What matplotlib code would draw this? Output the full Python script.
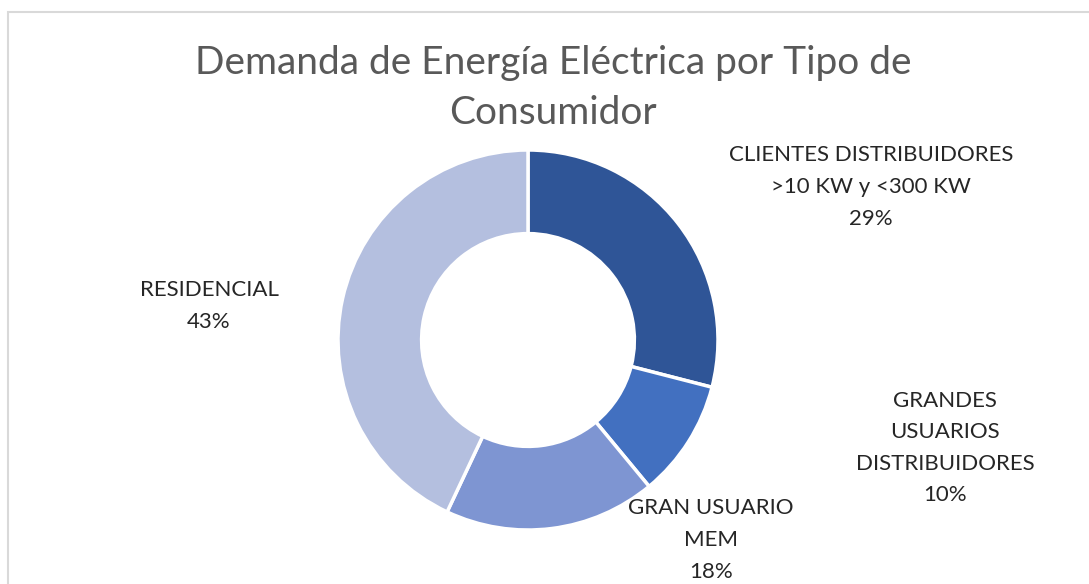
import matplotlib
matplotlib.use("Agg")
import matplotlib.pyplot as plt
from matplotlib.patches import Rectangle

categories = ["CLIENTES DISTRIBUIDORES\n>10 KW y <300 KW", "GRANDES\nUSUARIOS\nDISTRIBUIDORES",
              "GRAN USUARIO\nMEM", "RESIDENCIAL"]
values = [29, 10, 18, 43]
colors = ["#2F5597", "#4270C0", "#7E95D2", "#B4BFDF"]
title = "Demanda de Energía Eléctrica por Tipo de\nConsumidor"

W, H = 1089, 584
fig = plt.figure(figsize=(W / 100, H / 100), dpi=100)
plt.rcParams['font.family'] = ['Lato', 'DejaVu Sans']

# border
fig.patches.append(Rectangle((8 / W, -0.1), 1.2, (H - 12) / H + 0.1, transform=fig.transFigure,
                             fill=False, edgecolor="#D9D9D9", lw=1.5))

cx, cy, R = 528, 340, 190
ax = fig.add_axes([(cx - R) / W, (H - cy - R) / H, 2 * R / W, 2 * R / H])
ax.pie(values, colors=colors, startangle=90, counterclock=False, radius=1,
       wedgeprops=dict(width=0.44, edgecolor="white", linewidth=2.5))
ax.set_xlim(-1, 1)
ax.set_ylim(-1, 1)
ax.set_aspect("equal")
ax.axis("off")

fig.text(553 / W, 1 - 88 / H, title, ha="center", va="center", fontsize=28,
         color="#595959", linespacing=1.48)

label_pos = [(871, 187), (945, 448), (711, 540), (209, 306)]
for cat, v, (px, py) in zip(categories, values, label_pos):
    fig.text(px / W, 1 - py / H, f"{cat}\n{v}%", ha="center", va="center",
             fontsize=16, color="#262626", linespacing=1.72)

fig.savefig("out.png", dpi=100)
